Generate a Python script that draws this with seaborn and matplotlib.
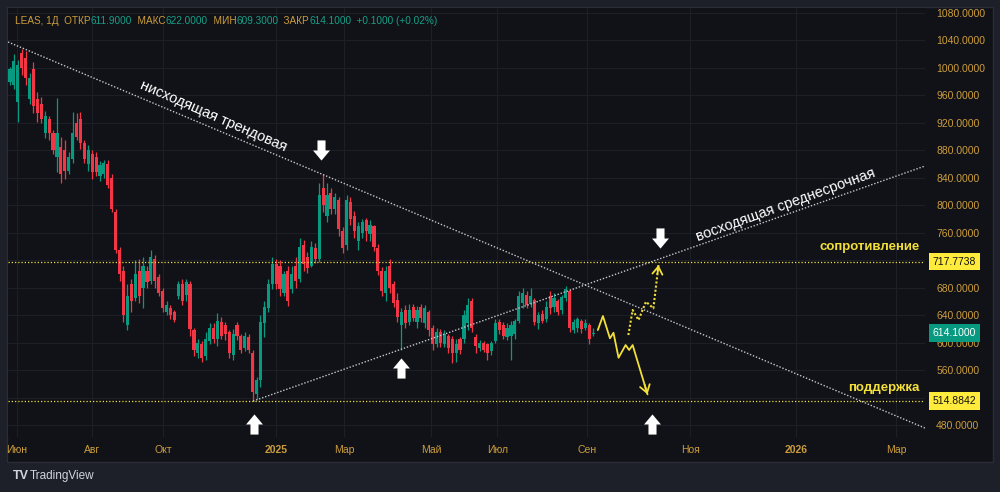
import numpy as np
import pandas as pd
import matplotlib
matplotlib.use("Agg")
import matplotlib.pyplot as plt
import seaborn as sns
from matplotlib.path import Path
from matplotlib.patches import Rectangle
from matplotlib import transforms

# LEAS daily (one candle ~ two sessions)
opens = [
    980, 975, 950, 1022, 1015, 955, 998, 955, 948, 905,
    925, 905, 870, 885, 880, 850, 868, 920, 925, 890,
    860, 875, 870, 842, 845, 860, 840, 790, 735, 705,
    625, 685, 665, 705, 680, 705, 690, 722, 695, 675,
    645, 650, 645, 668, 686, 670, 685, 618, 585, 598,
    580, 602, 622, 605, 630, 625, 615, 582, 625, 610,
    592, 608, 585, 525, 545, 628, 650, 685, 715, 712,
    672, 705, 678, 712, 692, 742, 725, 712, 738, 722,
    825, 785, 818, 795, 808, 762, 742, 805, 785, 748,
    760, 778, 758, 770, 738, 705, 672, 712, 685, 662,
    625, 648, 630, 652, 630, 652, 628, 645, 622, 598,
    615, 598, 610, 605, 585, 605, 605, 628, 660, 608,
    592, 600, 598, 588, 602, 630, 626, 608, 610, 612,
    632, 658, 670, 656, 662, 628, 642, 635, 668, 652,
    660, 648, 665, 675, 618, 622, 632, 622, 625, 611.9,
]
highs = [
    1002, 1020, 1012, 1028, 1025, 992, 1008, 965, 958, 938,
    930, 910, 956, 900, 895, 878, 936, 935, 936, 895,
    888, 880, 878, 865, 866, 866, 845, 795, 740, 712,
    685, 692, 720, 722, 724, 712, 735, 728, 700, 680,
    660, 655, 648, 690, 692, 693, 690, 622, 606, 602,
    615, 628, 628, 643, 638, 630, 618, 620, 630, 612,
    615, 612, 590, 550, 640, 660, 692, 725, 722, 720,
    705, 712, 712, 725, 752, 750, 732, 748, 745, 832,
    846, 832, 825, 818, 812, 768, 815, 812, 792, 775,
    780, 782, 778, 772, 744, 710, 712, 722, 690, 672,
    650, 655, 656, 656, 654, 656, 655, 648, 626, 622,
    620, 618, 612, 610, 605, 608, 648, 665, 665, 612,
    604, 603, 600, 603, 635, 634, 630, 628, 632, 634,
    675, 680, 675, 680, 665, 645, 647, 660, 675, 672,
    664, 670, 682, 678, 635, 638, 634, 634, 628, 622,
]
lows = [
    975, 970, 921, 990, 975, 948, 935, 922, 920, 898,
    895, 875, 848, 832, 838, 845, 862, 895, 882, 862,
    850, 838, 842, 835, 840, 825, 790, 730, 690, 630,
    618, 645, 660, 658, 650, 680, 685, 680, 668, 645,
    640, 634, 630, 664, 655, 660, 610, 580, 578, 572,
    575, 598, 600, 595, 606, 604, 578, 575, 604, 585,
    588, 585, 515, 518, 535, 608, 645, 678, 678, 668,
    668, 654, 672, 680, 688, 705, 702, 710, 716, 718,
    790, 775, 788, 788, 755, 730, 735, 772, 752, 735,
    752, 748, 748, 734, 698, 668, 660, 672, 652, 630,
    590, 622, 626, 632, 622, 630, 622, 610, 590, 594,
    594, 594, 585, 570, 572, 584, 600, 618, 615, 585,
    588, 586, 575, 582, 600, 612, 606, 604, 575, 606,
    628, 650, 650, 652, 626, 620, 628, 630, 642, 645,
    640, 642, 660, 615, 614, 616, 614, 618, 598, 609.3,
]
closes = [
    998, 1010, 1005, 1000, 985, 985, 945, 935, 925, 930,
    905, 880, 905, 845, 850, 870, 905, 900, 890, 868,
    880, 848, 848, 858, 862, 830, 795, 735, 700, 640,
    668, 660, 700, 668, 712, 688, 725, 690, 672, 650,
    655, 640, 633, 685, 660, 688, 620, 590, 600, 578,
    605, 622, 605, 632, 610, 612, 585, 612, 610, 590,
    610, 590, 528, 545, 630, 652, 685, 715, 685, 678,
    700, 660, 700, 690, 740, 715, 708, 740, 722, 815,
    800, 815, 795, 812, 765, 738, 808, 780, 762, 770,
    776, 762, 772, 740, 705, 675, 705, 680, 658, 638,
    645, 628, 648, 636, 648, 636, 650, 618, 598, 615,
    600, 612, 592, 585, 598, 590, 640, 655, 622, 595,
    600, 590, 585, 600, 628, 618, 610, 622, 626, 632,
    668, 672, 655, 668, 630, 640, 632, 652, 650, 665,
    645, 666, 678, 622, 630, 634, 620, 628, 605, 614.1,
]

month_labels = ["Июн", "Авг", "Окт", "2025", "Мар", "Май", "Июл", "Сен", "Ноя", "2026", "Мар"]
month_pos = [1.8, 21.0, 39.1, 68.0, 85.4, 107.6, 124.5, 147.5, 173.8, 200.9, 226.4]
price_ticks = list(range(480, 1081, 40))

resistance = 717.7738
support = 514.8842

down_trend_x = [-0.5, 233.8]
down_trend_y = [1037.8, 475.6]
up_trend_x = [62.1, 233.8]
up_trend_y = [514.9, 857.2]

bear_path_x = [150.2, 151.5, 153.3, 154.2, 155.5, 157.3, 158.2, 159.1, 162.9]
bear_path_y = [618.4, 638.8, 606.3, 614.4, 578.0, 596.5, 589.3, 596.5, 524.7]
bull_path_x = [158.0, 159.1, 160.6, 162.5, 164.4, 165.7]
bull_path_y = [611.1, 647.5, 632.9, 659.6, 650.0, 713.0]

# colours
outer_bg = "#1e2029"
panel_bg = "#111217"
grid_c = "#1d1f27"
gold = "#cc9d3c"
teal = "#17a088"
up_c = "#089981"
down_c = "#f23645"
yellow = "#f2df3a"
trend_c = "#c5c7cd"

sns.set_theme(style="dark", rc={
    "figure.facecolor": outer_bg,
    "axes.facecolor": panel_bg,
    "axes.edgecolor": panel_bg,
})
plt.rcParams["font.family"] = ["Liberation Sans", "DejaVu Sans"]

W, H = 1000, 492
fig = plt.figure(figsize=(10, 4.92), dpi=100)
fig.patches.append(Rectangle((7 / W, 1 - 462 / H), 986 / W, 455 / H, transform=fig.transFigure,
                             facecolor=panel_bg, edgecolor="#2a2d37", lw=1, zorder=-1))
ax = fig.add_axes([8 / W, 1 - 437 / H, 917 / W, 429 / H])
for s in ax.spines.values():
    s.set_visible(False)

df = pd.DataFrame({"open": opens, "high": highs, "low": lows, "close": closes})
df["bar"] = np.arange(len(df))
colors = np.where(df["close"] >= df["open"], up_c, down_c)
ax.vlines(df["bar"], df["low"], df["high"], colors=colors, lw=0.9, zorder=3)
ax.bar(df["bar"], (df["close"] - df["open"]).abs().clip(lower=0.8),
       bottom=df[["open", "close"]].min(axis=1), width=0.8, color=colors, linewidth=0, zorder=3)

# trend lines
ax.plot(down_trend_x, down_trend_y, color=trend_c, lw=1.0, linestyle=(0, (1, 1.3)), zorder=4)
ax.plot(up_trend_x, up_trend_y, color=trend_c, lw=1.0, linestyle=(0, (1, 1.3)), zorder=4)
ax.axhline(resistance, color=yellow, lw=0.9, linestyle=(0, (1, 1.6)), zorder=4)
ax.axhline(support, color=yellow, lw=0.9, linestyle=(0, (1, 1.6)), zorder=4)

# projected paths
sns.lineplot(x=bear_path_x, y=bear_path_y, ax=ax, color=yellow, lw=1.3, sort=False,
             estimator=None, zorder=5)
sns.lineplot(x=bull_path_x, y=bull_path_y, ax=ax, color=yellow, lw=1.5, sort=False,
             estimator=None, linestyle=(0, (1, 1)), zorder=5)
for px, py in [(bear_path_x, bear_path_y), (bull_path_x, bull_path_y)]:
    tip = (px[-1], py[-1])
    tail = (px[-1] - 0.2 * (px[-1] - px[-2]), py[-1] - 0.2 * (py[-1] - py[-2]))
    ax.annotate("", xy=tip, xytext=tail,
                arrowprops=dict(arrowstyle="->,head_length=0.45,head_width=0.3",
                                color=yellow, lw=1.3, shrinkA=0, shrinkB=0), zorder=5)

# block arrows
dv = [(-0.2, 0.5), (0.2, 0.5), (0.2, 0.0), (0.42, 0.0), (0.0, -0.5), (-0.42, 0.0), (-0.2, 0.0), (-0.2, 0.5)]
down_arrow = Path(dv, closed=True)
up_arrow = Path([(x, -y) for x, y in dv], closed=True)
ax.plot([79.5, 166.1], [880.5, 752.4], linestyle="none", marker=down_arrow, markersize=14.5,
        color="white", markeredgewidth=0, zorder=6)
ax.plot([62.4, 99.9, 164.1], [481.5, 563.0, 481.5], linestyle="none", marker=up_arrow,
        markersize=14.5, color="white", markeredgewidth=0, zorder=6)

# labels on the chart
ax.text(51.9, 930, "нисходящая трендовая", color="white", fontsize=10.5, rotation=-23.5,
        ha="center", va="center", rotation_mode="anchor", zorder=6)
ax.text(198.1, 800.4, "восходящая среднесрочная", color="white", fontsize=10.5, rotation=20,
        ha="center", va="center", rotation_mode="anchor", zorder=6)
ax.text(232.5, resistance + 13, "сопротивление", color=yellow, fontsize=9.5, fontweight="bold",
        ha="right", va="bottom", zorder=6)
ax.text(232.5, support + 10, "поддержка", color=yellow, fontsize=9.5, fontweight="bold",
        ha="right", va="bottom", zorder=6)

# axes
ax.set_xlim(-0.51, 233.8)
ax.set_ylim(462.6, 1087.3)
ax.yaxis.tick_right()
ax.set_yticks(price_ticks)
# 720 and 520 sit under the level tags on the scale
ax.set_yticklabels(["" if v in (520, 720) else f"{v:.4f}" for v in price_ticks])
ax.set_xticks(month_pos)
ax.set_xticklabels(month_labels)
for t in ax.get_xticklabels():
    if t.get_text().isdigit():
        t.set_fontweight("bold")
ax.tick_params(axis="y", length=0, pad=8, labelsize=7.5, labelcolor=gold)
ax.tick_params(axis="x", length=0, pad=6, labelsize=7.5, labelcolor=gold)
ax.grid(True, color=grid_c, lw=0.8)
ax.set_axisbelow(True)

# price tags on the scale
tag_tr = transforms.blended_transform_factory(ax.transAxes, ax.transData)
for val, fc, tc in [(resistance, "#ffeb3b", "#111111"), (support, "#ffeb3b", "#111111"),
                    (closes[-1], up_c, "white")]:
    ax.text(1.0085, val, f"{val:.4f}", transform=tag_tr, fontsize=7.5, color=tc,
            ha="left", va="center", zorder=7,
            bbox=dict(boxstyle="square,pad=0.35", facecolor=fc, edgecolor="none"))

# header line
pieces = [("LEAS, 1Д  ОТКР", gold), (f"{opens[-1]:.4f}", teal), ("  МАКС", gold),
          (f"{highs[-1]:.4f}", teal), ("  МИН", gold), (f"{lows[-1]:.4f}", teal),
          ("  ЗАКР", gold), (f"{closes[-1]:.4f}", teal), ("  +0.1000 (+0.02%)", teal)]
t = fig.text(15 / W, 1 - 21 / H, pieces[0][0], color=pieces[0][1], fontsize=7.2, va="center")
for s, c in pieces[1:]:
    t = ax.annotate(s, xy=(1, 0), xycoords=t, va="bottom", ha="left", color=c,
                    fontsize=7.2, annotation_clip=False)

fig.text(13 / W, 1 - 476 / H, "TV", color="#d1d4dc", fontsize=9, fontweight="heavy", va="center")
fig.text(30 / W, 1 - 476 / H, "TradingView", color="#d1d4dc", fontsize=8.5, va="center")

fig.savefig("out.png", dpi=100, facecolor=outer_bg)
